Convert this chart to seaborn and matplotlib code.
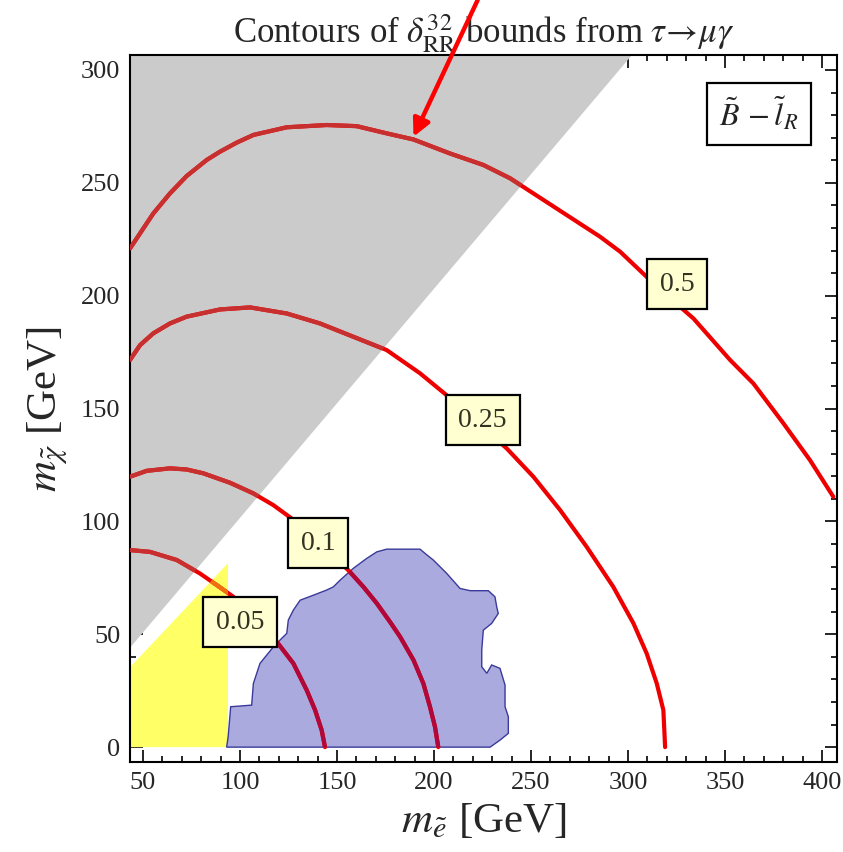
import matplotlib
matplotlib.use("Agg")
import matplotlib.pyplot as plt
import seaborn as sns
import pandas as pd

# ---- data ----
levels = ["0.05", "0.1", "0.25", "0.5"]

c005_x = [43.3, 53.6, 67.4, 79.4, 88.0, 96.6, 118.9, 127.5, 134.4, 138.7, 142.1, 143.8]
c005_y = [87.3, 86.5, 82.9, 76.9, 71.8, 66.6, 46.7, 37.1, 25.2, 16.4, 7.5, 0.0]

c01_x = [43.3, 51.9, 63.9, 72.5, 81.1, 94.9, 106.9, 117.2, 126.6, 155.8, 163.6,
         170.5, 177.3, 182.5, 189.4, 194.5, 197.9, 200.5, 202.2]
c01_y = [119.8, 122.4, 123.5, 123.0, 121.3, 117.1, 112.4, 107.2, 101.3, 78.4, 71.0,
         63.7, 55.5, 48.9, 38.6, 28.2, 17.9, 9.0, 0.0]

c025_x = [43.3, 48.5, 55.3, 63.9, 72.5, 89.7, 105.2, 124.1, 141.2, 158.4, 175.6,
          192.8, 206.5, 237.5, 251.2, 265.0, 278.7, 292.4, 302.8, 309.6, 314.8,
          318.2, 319.1]
c025_y = [171.5, 178.1, 183.3, 187.7, 190.7, 193.9, 194.8, 192.1, 187.7, 181.8, 175.9,
          165.6, 155.9, 132.3, 119.8, 105.0, 88.7, 71.0, 54.8, 41.5, 28.2,
          16.4, 0.0]

c05_x = [43.3, 55.3, 63.9, 72.5, 82.8, 89.7, 98.3, 106.9, 124.1, 144.7, 160.1,
         175.6, 189.4, 208.2, 225.4, 239.2, 285.6, 295.9, 310.5, 327.7, 333.7,
         352.6, 364.6, 380.1, 393.8, 405.8]
c05_y = [220.9, 236.4, 245.3, 253.0, 260.1, 263.8, 267.8, 271.2, 274.6, 275.6, 275.1,
         271.9, 269.2, 263.0, 257.9, 252.0, 226.1, 219.5, 207.6, 194.4, 189.9,
         171.5, 161.1, 143.4, 127.1, 110.9]

contour_x = [c005_x, c01_x, c025_x, c05_x]
contour_y = [c005_y, c01_y, c025_y, c05_y]

label_x = [100.0, 140.2, 225.0, 325.3]
label_y = [55.4, 90.4, 144.9, 205.1]

gray_x = [43.3, 302.0, 43.3]
gray_y = [44.0, 306.6, 306.6]

yellow_x = [43.3, 43.3, 93.8, 93.8]
yellow_y = [0.0, 35.4, 81.5, 0.0]

blue_x = [93.1, 93.9, 95.2, 106.0, 106.9, 110.3, 117.2, 121.5, 124.1, 124.9, 127.5,
          131.0, 137.8, 144.7, 148.1, 151.5, 158.4, 165.3, 170.5, 175.6, 192.8,
          195.4, 199.6, 206.5, 213.4, 218.6, 228.0, 231.4, 232.3, 233.1, 229.7,
          225.4, 224.6, 224.6, 227.2, 229.7, 234.0, 236.6, 236.6, 238.3, 238.3,
          234.0, 228.9]
blue_y = [0.0, 4.6, 17.9, 18.6, 28.2, 37.1, 44.4, 48.2, 50.4, 56.3, 60.7,
          65.1, 67.3, 69.6, 71.0, 73.9, 79.2, 83.6, 86.5, 87.7, 87.7,
          85.8, 82.9, 77.0, 70.3, 69.3, 69.3, 66.6, 62.2, 59.2, 54.8,
          51.8, 43.0, 35.6, 32.7, 36.4, 34.9, 27.5, 17.9, 13.5, 6.1,
          3.1, 0.0]

arrow_tip = (189.4, 270.4)
arrow_tail = (222.5, 331.0)

x_ticks = [50, 100, 150, 200, 250, 300, 350, 400]
y_ticks = [0, 50, 100, 150, 200, 250, 300]

# ---- style ----
sns.set_style("ticks")
plt.rcParams["font.family"] = ["Liberation Serif", "DejaVu Serif"]
plt.rcParams["mathtext.fontset"] = "stix"

fig = plt.figure(figsize=(8.43, 8.52), dpi=100)
ax = fig.add_axes([0.1542, 0.1056, 0.8387, 0.8298])

# shaded regions
gray_patch = ax.fill(gray_x, gray_y, color="#cbcbcb", lw=0, zorder=1)[0]
yellow_patch = ax.fill(yellow_x, yellow_y, color="#ffff66", lw=0, zorder=1)[0]
blue_patch = ax.fill(blue_x, blue_y, facecolor="#aaaadf", edgecolor="#3a3a9a",
                     lw=1.0, zorder=1)[0]

# contours
for xs, ys in zip(contour_x, contour_y):
    df = pd.DataFrame({"x": xs, "y": ys})
    sns.lineplot(data=df, x="x", y="y", sort=False, estimator=None,
                 color="#ee0000", lw=3.0, ax=ax, zorder=2)
    ax.lines[-1].set_solid_joinstyle("round")
    for patch, col in [(gray_patch, "#c83030"), (blue_patch, "#b0083a"),
                       (yellow_patch, "#f07010")]:
        sns.lineplot(data=df, x="x", y="y", sort=False, estimator=None,
                     color=col, lw=3.0, ax=ax, zorder=3)
        ax.lines[-1].set_clip_path(patch)
        ax.lines[-1].set_solid_joinstyle("round")

# contour labels
for lx, ly, lab in zip(label_x, label_y, levels):
    ax.text(lx, ly, lab, ha="center", va="center", fontsize=20, color="#333322",
            zorder=6,
            bbox=dict(boxstyle="square,pad=0.46", fc="#ffffd2", ec="black", lw=1.6))

# model box
ax.text(367.5, 280.5, r"$\tilde{B}\,-\tilde{l}_R$", ha="center", va="center",
        fontsize=23, color="#222222", zorder=6,
        bbox=dict(boxstyle="square,pad=0.38", fc="white", ec="black", lw=1.6))

# arrow
ax.annotate("", xy=arrow_tip, xytext=arrow_tail, xycoords="data",
            textcoords="data", annotation_clip=False, zorder=10,
            arrowprops=dict(arrowstyle="-|>", color="#ff0000", lw=3.2,
                            mutation_scale=26, shrinkA=0, shrinkB=0))

ax.set_xlim(43.3, 407.7)
ax.set_ylim(-6.6, 306.6)
ax.set_xticks(x_ticks)
ax.set_yticks(y_ticks)
ax.set_xticks(range(50, 410, 10), minor=True)
ax.set_yticks(range(0, 310, 10), minor=True)
ax.tick_params(which="both", direction="in", top=True, right=True,
               labeltop=False, labelright=False, width=1.2, color="black")
ax.tick_params(which="major", length=9, labelsize=19, pad=7)
ax.tick_params(which="minor", length=4.5)
for s in ax.spines.values():
    s.set_linewidth(1.5)
    s.set_color("black")

ax.set_xlabel(r"$m_{\tilde{e}}$ [GeV]", fontsize=31, labelpad=6)
ax.set_ylabel(r"$m_{\tilde{\chi}}$ [GeV]", fontsize=31, labelpad=8)
ax.set_title(r"Contours of $\delta_{\rm RR}^{32}$ bounds from $\tau\!\rightarrow\!\mu\gamma$",
             fontsize=25, pad=7)

fig.savefig("out.png", dpi=100)
